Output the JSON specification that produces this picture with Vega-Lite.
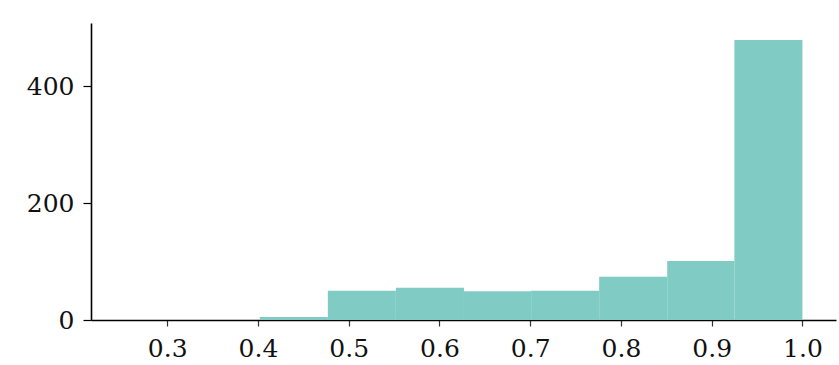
{
  "$schema": "https://vega.github.io/schema/vega-lite/v6.json",
  "autosize": {"type": "none"},
  "width": 745,
  "height": 297,
  "padding": {"left": 91, "top": 23, "right": 3, "bottom": 45},
  "background": "white",
  "data": {
    "values": [
      {"bin_start": 0.253, "bin_end": 0.328, "count": 0},
      {"bin_start": 0.328, "bin_end": 0.402, "count": 0},
      {"bin_start": 0.402, "bin_end": 0.477, "count": 5},
      {"bin_start": 0.477, "bin_end": 0.552, "count": 50},
      {"bin_start": 0.552, "bin_end": 0.627, "count": 55},
      {"bin_start": 0.627, "bin_end": 0.701, "count": 49},
      {"bin_start": 0.701, "bin_end": 0.776, "count": 50},
      {"bin_start": 0.776, "bin_end": 0.851, "count": 74},
      {"bin_start": 0.851, "bin_end": 0.925, "count": 101},
      {"bin_start": 0.925, "bin_end": 1.0, "count": 479}
    ]
  },
  "mark": {"type": "bar", "color": "#80cbc4", "opacity": 1},
  "encoding": {
    "x": {
      "field": "bin_start",
      "type": "quantitative",
      "scale": {"domain": [0.216, 1.037], "nice": false, "zero": false},
      "axis": {
        "title": null,
        "values": [0.3, 0.4, 0.5, 0.6, 0.7, 0.8, 0.9, 1.0],
        "format": ".1f",
        "grid": false,
        "domainColor": "#000000",
        "domainWidth": 1.6,
        "tickColor": "#333333",
        "tickSize": 6,
        "tickWidth": 1.2,
        "labelFont": "DejaVu Serif",
        "labelFontSize": 25,
        "labelColor": "#111111",
        "labelPadding": 10
      }
    },
    "x2": {"field": "bin_end"},
    "y": {
      "field": "count",
      "type": "quantitative",
      "scale": {"domain": [0, 508], "nice": false},
      "axis": {
        "title": null,
        "values": [0, 200, 400],
        "grid": false,
        "domainColor": "#000000",
        "domainWidth": 1.6,
        "tickColor": "#000000",
        "tickSize": 8,
        "tickWidth": 1.2,
        "labelFont": "DejaVu Serif",
        "labelFontSize": 25,
        "labelColor": "#111111",
        "labelPadding": 9
      }
    },
    "y2": {"datum": 0}
  },
  "config": {"view": {"stroke": null}}
}
